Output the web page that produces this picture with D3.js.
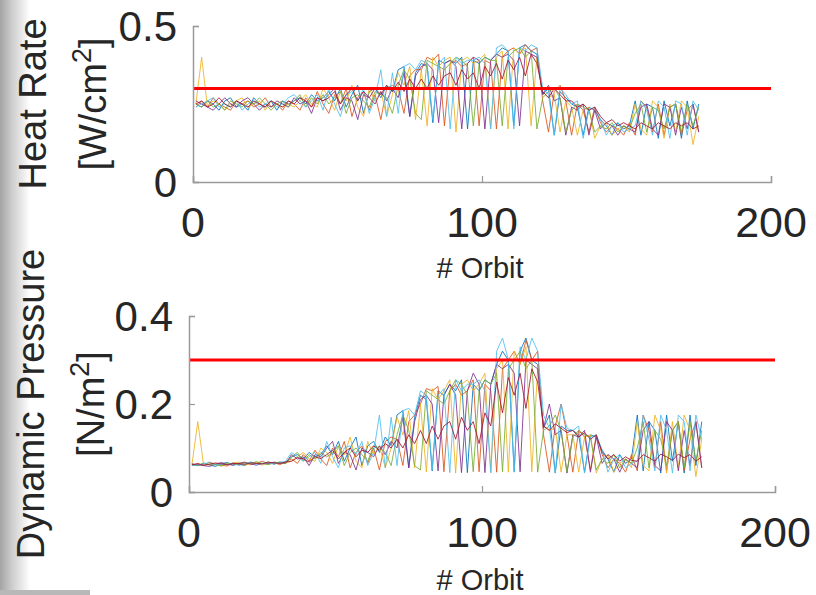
<!DOCTYPE html>
<html><head><meta charset="utf-8">
<script src="https://cdn.jsdelivr.net/npm/d3@7/dist/d3.min.js"></script>
<style>html,body{margin:0;padding:0;background:#fff;} svg{display:block;}</style>
</head><body>
<svg id="c" width="816" height="595"></svg>
<script>
// ---------- DATA ----------
const orbits = [1,3,5,7,9,11,13,15,17,19,21,23,25,27,29,31,33,35,37,39,41,43,45,47,49,51,53,55,57,59,61,63,65,67,69,71,73,75,77,79,81,83,85,87,89,91,93,95,97,99,101,103,105,107,109,111,113,115,117,119,121,123,125,127,129,131,133,135,137,139,141,143,145,147,149,151,153,155,157,159,161,163,165,167,169,171,173,175];

const seriesColors = ["#0072BD","#D95319","#EDB120","#7E2F8E","#77AC30","#4DBEEE","#A2142F"];

const xTicks = [0,100,200];
const heatTicks = [0,0.5];
const pressTicks = [0,0.2,0.4];
const heatLimit = 0.3;
const pressLimit = 0.3;

// Heat rate [W/cm^2]
const heatA = [0.25,0.24,0.26,0.25,0.23,0.26,0.27,0.24,0.25,0.23,0.27,0.25,0.24,0.26,0.23,0.26,0.25,
 0.26,0.27,0.25,0.28,0.26,0.27,
 0.29,0.26,0.30,0.24,0.28,0.31,0.22,0.29,0.30,0.27,0.31,0.29,
 0.36,0.37,0.21,0.35,
 0.38,0.37,0.19,0.39,0.38,
 0.39,0.38,0.40,0.17,0.39,0.38,0.40,0.39,
 0.41,0.43,0.42,0.18,0.43,0.44,0.42,0.41,
 0.28,0.30,0.15,0.29,0.27,
 0.25,0.24,0.15,0.24,0.23,
 0.20,0.18,0.15,0.19,0.17,0.18,
 0.26,0.15,0.25,0.24,0.14,0.26,0.18,0.25,0.14,0.26,0.17,0.25];
const heatB = [0.24,0.26,0.24,0.27,0.25,0.24,0.23,0.26,0.25,0.26,0.24,0.25,0.27,0.24,0.25,0.23,0.26,
 0.25,0.23,0.27,0.24,0.29,0.25,
 0.22,0.28,0.25,0.30,0.21,0.27,0.29,0.23,0.28,0.20,0.30,0.31,
 0.30,0.22,0.34,0.36,
 0.36,0.40,0.39,0.41,0.18,
 0.38,0.39,0.37,0.38,0.40,0.18,0.39,0.38,
 0.17,0.40,0.42,0.43,0.41,0.44,0.42,0.43,
 0.26,0.16,0.29,0.31,0.26,
 0.15,0.25,0.23,0.16,0.24,
 0.19,0.16,0.18,0.17,0.15,0.19,
 0.15,0.26,0.24,0.16,0.25,0.15,0.24,0.25,0.15,0.23,0.25,0.16];
const heatC = [0.25,0.40,0.24,0.26,0.25,0.23,0.25,0.26,0.27,0.24,0.25,0.26,0.23,0.26,0.25,0.24,0.25,
 0.24,0.26,0.28,0.25,0.24,0.30,
 0.27,0.23,0.29,0.26,0.31,0.24,0.21,0.30,0.26,0.29,0.21,0.28,
 0.35,0.31,0.37,0.20,
 0.36,0.18,0.40,0.37,0.39,
 0.40,0.16,0.39,0.40,0.38,0.39,0.41,0.17,
 0.40,0.42,0.17,0.43,0.41,0.43,0.18,0.40,
 0.29,0.27,0.28,0.16,0.26,
 0.24,0.15,0.23,0.24,0.14,
 0.18,0.19,0.15,0.17,0.18,0.16,
 0.25,0.17,0.15,0.26,0.24,0.14,0.25,0.16,0.26,0.24,0.12,0.21];
const heatD = [0.26,0.25,0.24,0.23,0.25,0.27,0.25,0.24,0.26,0.27,0.25,0.23,0.25,0.24,0.26,0.25,0.24,
 0.27,0.25,0.26,0.22,0.27,0.26,
 0.28,0.30,0.23,0.27,0.26,0.20,0.28,0.27,0.25,0.29,0.26,0.30,
 0.27,0.35,0.21,0.34,
 0.37,0.38,0.36,0.19,0.38,
 0.39,0.37,0.17,0.38,0.40,0.39,0.17,0.39,
 0.41,0.40,0.41,0.39,0.18,0.42,0.41,0.40,
 0.28,0.31,0.26,0.27,0.15,
 0.24,0.23,0.25,0.15,0.23,
 0.17,0.19,0.18,0.15,0.18,0.17,
 0.16,0.24,0.25,0.17,0.15,0.25,0.24,0.15,0.24,0.17,0.25,0.16];
const heatE = [0.25,0.24,0.26,0.24,0.25,0.23,0.26,0.25,0.24,0.26,0.25,0.27,0.25,0.23,0.25,0.26,0.24,
 0.26,0.28,0.24,0.27,0.25,0.28,
 0.25,0.27,0.29,0.22,0.27,0.28,0.26,0.24,0.29,0.28,0.27,0.22,
 0.31,0.36,0.33,0.22,
 0.20,0.39,0.38,0.37,0.36,
 0.38,0.40,0.39,0.37,0.18,0.38,0.40,0.39,
 0.39,0.18,0.40,0.42,0.43,0.40,0.42,0.17,
 0.27,0.29,0.30,0.27,0.16,
 0.23,0.25,0.24,0.23,0.16,
 0.18,0.17,0.19,0.16,0.18,0.17,
 0.22,0.25,0.16,0.24,0.23,0.17,0.24,0.25,0.16,0.25,0.18,0.24];
const heatF = [0.24,0.25,0.26,0.27,0.24,0.25,0.24,0.26,0.23,0.25,0.26,0.24,0.25,0.26,0.24,0.25,0.27,
 0.28,0.26,0.24,0.26,0.28,0.23,
 0.30,0.25,0.21,0.28,0.29,0.26,0.30,0.22,0.27,0.36,0.21,0.35,
 0.22,0.37,0.38,0.36,
 0.39,0.38,0.20,0.38,0.40,
 0.17,0.40,0.38,0.39,0.39,0.40,0.38,0.17,
 0.43,0.44,0.42,0.17,0.43,0.42,0.44,0.43,
 0.30,0.28,0.15,0.30,0.28,
 0.25,0.26,0.14,0.23,0.24,
 0.20,0.15,0.18,0.19,0.16,0.17,
 0.18,0.26,0.23,0.15,0.26,0.24,0.14,0.26,0.25,0.15,0.26,0.23];
const heatG = [0.25,0.26,0.24,0.25,0.27,0.25,0.24,0.26,0.25,0.24,0.26,0.25,0.24,0.26,0.25,0.24,0.26,
 0.25,0.27,0.26,0.24,0.27,0.26,
 0.27,0.29,0.25,0.28,0.30,0.26,0.29,0.27,0.30,0.28,0.31,0.29,
 0.32,0.29,0.33,0.30,
 0.33,0.30,0.34,0.31,0.34,
 0.35,0.31,0.36,0.33,0.35,0.30,0.37,0.34,
 0.38,0.33,0.39,0.36,0.40,0.34,0.41,0.38,
 0.29,0.27,0.30,0.28,0.26,
 0.26,0.24,0.25,0.23,0.24,
 0.21,0.19,0.20,0.18,0.19,0.18,
 0.17,0.19,0.18,0.17,0.19,0.18,0.17,0.19,0.18,0.19,0.17,0.18];

// Dynamic pressure [N/m^2]
const pressA = [0.062,0.060,0.065,0.062,0.058,0.064,0.067,0.061,0.064,0.060,0.068,0.065,0.064,0.068,0.063,0.068,0.067,
 0.080,0.085,0.075,0.090,0.080,0.085,
 0.105,0.085,0.115,0.070,0.100,0.125,0.060,0.105,0.115,0.090,0.125,0.105,
 0.175,0.185,0.055,0.170,
 0.220,0.210,0.048,0.230,0.220,
 0.245,0.230,0.255,0.044,0.245,0.230,0.255,0.245,
 0.290,0.320,0.300,0.046,0.320,0.350,0.300,0.290,
 0.145,0.175,0.043,0.150,0.140,
 0.140,0.130,0.045,0.130,0.125,
 0.095,0.075,0.045,0.085,0.065,0.075,
 0.175,0.048,0.160,0.140,0.043,0.175,0.070,0.160,0.043,0.175,0.060,0.160];
const pressB = [0.060,0.065,0.060,0.068,0.063,0.061,0.059,0.066,0.064,0.067,0.062,0.065,0.070,0.064,0.067,0.062,0.069,
 0.075,0.065,0.085,0.070,0.095,0.075,
 0.060,0.100,0.080,0.115,0.055,0.090,0.105,0.065,0.100,0.050,0.115,0.125,
 0.120,0.060,0.160,0.175,
 0.200,0.235,0.230,0.240,0.046,
 0.230,0.245,0.220,0.230,0.255,0.046,0.245,0.230,
 0.045,0.280,0.300,0.320,0.290,0.345,0.300,0.320,
 0.130,0.045,0.150,0.200,0.130,
 0.045,0.140,0.125,0.050,0.130,
 0.085,0.055,0.075,0.065,0.045,0.085,
 0.048,0.175,0.140,0.055,0.160,0.048,0.140,0.160,0.048,0.120,0.160,0.055];
const pressC = [0.062,0.160,0.060,0.065,0.063,0.059,0.063,0.066,0.068,0.061,0.064,0.067,0.061,0.068,0.066,0.064,0.066,
 0.070,0.080,0.090,0.075,0.070,0.100,
 0.090,0.065,0.105,0.085,0.125,0.070,0.055,0.115,0.085,0.105,0.055,0.100,
 0.170,0.130,0.185,0.055,
 0.200,0.046,0.235,0.210,0.230,
 0.255,0.043,0.245,0.255,0.230,0.245,0.270,0.044,
 0.280,0.300,0.045,0.320,0.290,0.330,0.046,0.280,
 0.150,0.140,0.145,0.045,0.130,
 0.130,0.045,0.125,0.130,0.043,
 0.075,0.085,0.045,0.065,0.075,0.055,
 0.160,0.060,0.048,0.175,0.140,0.043,0.160,0.055,0.175,0.140,0.035,0.120];
const pressD = [0.064,0.062,0.060,0.058,0.063,0.067,0.063,0.061,0.065,0.068,0.064,0.061,0.065,0.064,0.068,0.066,0.065,
 0.085,0.075,0.080,0.060,0.085,0.080,
 0.100,0.115,0.065,0.090,0.085,0.050,0.100,0.090,0.080,0.105,0.085,0.115,
 0.100,0.170,0.055,0.160,
 0.210,0.220,0.200,0.048,0.220,
 0.245,0.220,0.044,0.230,0.270,0.245,0.044,0.245,
 0.290,0.280,0.290,0.270,0.046,0.300,0.290,0.280,
 0.145,0.200,0.130,0.140,0.043,
 0.130,0.125,0.140,0.045,0.125,
 0.065,0.085,0.075,0.045,0.075,0.065,
 0.055,0.140,0.160,0.060,0.048,0.160,0.140,0.048,0.140,0.060,0.160,0.055];
const pressE = [0.063,0.060,0.066,0.061,0.063,0.059,0.066,0.064,0.062,0.066,0.065,0.069,0.065,0.062,0.066,0.068,0.065,
 0.080,0.090,0.070,0.085,0.075,0.090,
 0.080,0.090,0.105,0.060,0.090,0.100,0.085,0.070,0.105,0.100,0.090,0.060,
 0.130,0.175,0.140,0.060,
 0.050,0.230,0.220,0.210,0.200,
 0.230,0.255,0.245,0.220,0.046,0.230,0.255,0.245,
 0.270,0.046,0.280,0.300,0.320,0.280,0.300,0.045,
 0.140,0.150,0.175,0.140,0.045,
 0.125,0.140,0.130,0.125,0.050,
 0.075,0.065,0.085,0.055,0.075,0.065,
 0.100,0.160,0.055,0.140,0.120,0.060,0.140,0.160,0.055,0.160,0.070,0.140];
const pressF = [0.060,0.062,0.064,0.067,0.061,0.063,0.062,0.066,0.060,0.064,0.067,0.063,0.065,0.067,0.064,0.066,0.070,
 0.090,0.080,0.070,0.080,0.090,0.065,
 0.115,0.080,0.055,0.100,0.105,0.085,0.115,0.060,0.090,0.175,0.055,0.170,
 0.060,0.185,0.190,0.175,
 0.230,0.220,0.050,0.220,0.235,
 0.044,0.255,0.230,0.245,0.245,0.255,0.230,0.044,
 0.320,0.350,0.300,0.045,0.330,0.300,0.350,0.320,
 0.175,0.145,0.043,0.200,0.145,
 0.140,0.150,0.043,0.125,0.130,
 0.095,0.045,0.075,0.085,0.055,0.065,
 0.070,0.175,0.120,0.048,0.175,0.140,0.043,0.175,0.160,0.048,0.175,0.120];
const pressG = [0.062,0.064,0.061,0.063,0.066,0.064,0.062,0.065,0.064,0.063,0.066,0.065,0.064,0.068,0.066,0.065,0.068,
 0.070,0.078,0.075,0.068,0.080,0.076,
 0.085,0.095,0.075,0.090,0.100,0.080,0.095,0.090,0.105,0.095,0.110,0.100,
 0.120,0.100,0.130,0.110,
 0.140,0.110,0.150,0.120,0.150,
 0.160,0.120,0.170,0.140,0.160,0.110,0.180,0.150,
 0.250,0.180,0.260,0.220,0.270,0.190,0.280,0.250,
 0.150,0.140,0.155,0.145,0.135,
 0.140,0.125,0.135,0.120,0.130,
 0.090,0.075,0.085,0.070,0.080,0.072,
 0.070,0.085,0.078,0.070,0.086,0.080,0.072,0.086,0.078,0.085,0.070,0.080];

const heatSeries = [heatA,heatB,heatC,heatD,heatE,heatF,heatG];
const pressSeries = [pressA,pressB,pressC,pressD,pressE,pressF,pressG];

// ---------- DRAW ----------
const svg = d3.select("#c");
const defs = svg.append("defs");
const grad = defs.append("linearGradient").attr("id","lg").attr("x1","0").attr("x2","1").attr("y1","0").attr("y2","0");
grad.append("stop").attr("offset","0").attr("stop-color","#a4a4a4");
grad.append("stop").attr("offset","0.4").attr("stop-color","#cdcdcd");
grad.append("stop").attr("offset","1").attr("stop-color","#ffffff");
svg.append("rect").attr("x",0).attr("y",0).attr("width",30).attr("height",595).attr("fill","url(#lg)");
svg.append("rect").attr("x",0).attr("y",590).attr("width",90).attr("height",5).attr("fill","#b8b8b8");

const axisColor = "#9a9a9a";
const textColor = "#262626";
const font = "'Liberation Sans', Arial, Helvetica, sans-serif";

function panel(cfg){
  const x = d3.scaleLinear().domain([0,200]).range([cfg.left, cfg.right]);
  const y = d3.scaleLinear().domain(cfg.ydom).range([cfg.bottom, cfg.top]);
  const g = svg.append("g");

  const line = d3.line().defined(d => d[1] != null && !isNaN(d[1])).x(d => x(d[0])).y(d => y(d[1]));
  cfg.series.forEach((s,i) => {
    g.append("path")
      .datum(orbits.map((o,j) => [o, s[j]]))
      .attr("d", line)
      .attr("fill","none")
      .attr("stroke", seriesColors[i])
      .attr("stroke-width", 1.0)
      .attr("stroke-opacity", 0.85)
      .attr("stroke-linejoin","round");
  });

  g.append("line")
    .attr("x1", x(0)).attr("x2", x(200))
    .attr("y1", y(cfg.limit)).attr("y2", y(cfg.limit))
    .attr("stroke","#ff0000").attr("stroke-width",3);

  const xAxis = d3.axisBottom(x).tickValues(xTicks).tickSize(-6).tickPadding(0).tickFormat("");
  const yAxis = d3.axisLeft(y).tickValues(cfg.yticks).tickSize(-6).tickPadding(0).tickFormat("");
  const xa = g.append("g").attr("transform",`translate(0,${cfg.bottom})`).call(xAxis);
  const ya = g.append("g").attr("transform",`translate(${cfg.left},0)`).call(yAxis);
  [xa,ya].forEach(a => {
    a.select(".domain").attr("stroke",axisColor).attr("stroke-width",1.5);
    a.selectAll(".tick line").attr("stroke",axisColor).attr("stroke-width",1.2);
  });

  g.selectAll(".xt").data(xTicks).enter().append("text")
    .attr("x", d => x(d)).attr("y", cfg.bottom + 55)
    .attr("text-anchor","middle")
    .attr("font-family",font).attr("font-size",43).attr("fill",textColor)
    .text(d => d);
  g.selectAll(".yt").data(cfg.yticks).enter().append("text")
    .attr("x", cfg.left - 16).attr("y", d => y(d))
    .attr("dy","0.36em")
    .attr("text-anchor","end")
    .attr("font-family",font).attr("font-size",42).attr("fill",textColor)
    .text(d => String(d));

  g.append("text")
    .attr("x", (cfg.left+cfg.right)/2 - 2).attr("y", cfg.bottom + cfg.xlabOff)
    .attr("text-anchor","middle")
    .attr("font-family",font).attr("font-size",29).attr("fill",textColor)
    .text("# Orbit");

  const cy = (cfg.top + cfg.bottom)/2;
  g.append("text")
    .attr("transform",`translate(${cfg.lab1x},${cy}) rotate(-90)`)
    .attr("text-anchor","middle")
    .attr("font-family",font).attr("font-size",38).attr("fill",textColor)
    .text(cfg.lab1);
  const t2 = g.append("text")
    .attr("transform",`translate(${cfg.lab2x},${cy}) rotate(-90)`)
    .attr("text-anchor","middle")
    .attr("font-family",font).attr("font-size",38).attr("fill",textColor);
  t2.append("tspan").text(cfg.lab2a);
  t2.append("tspan").attr("font-size",27).attr("dy",-15).text("2");
  t2.append("tspan").attr("dy",15).text("]");
}

panel({left:193, right:771, top:26, bottom:182, ydom:[0,0.5], yticks:heatTicks,
  series:heatSeries, limit:heatLimit, lab1:"Heat Rate", lab2a:"[W/cm", lab1x:46, lab2x:106, xlabOff:96});
panel({left:189, right:775, top:316, bottom:492, ydom:[0,0.4], yticks:pressTicks,
  series:pressSeries, limit:pressLimit, lab1:"Dynamic Pressure", lab2a:"[N/m", lab1x:44, lab2x:104, xlabOff:98});
</script>
</body></html>
